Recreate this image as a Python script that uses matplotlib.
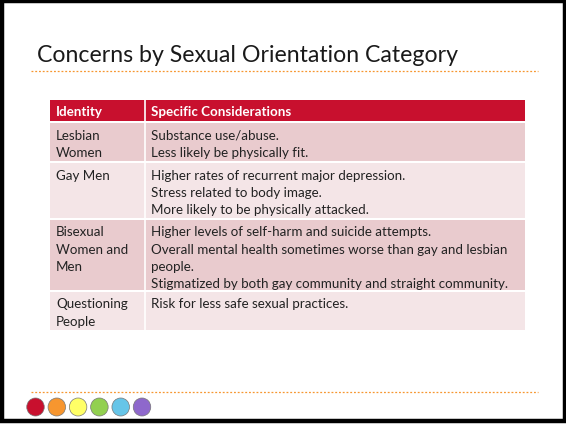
import matplotlib
matplotlib.use("Agg")
import matplotlib.pyplot as plt
from matplotlib.patches import Rectangle, Ellipse

# table content
title = "Concerns by Sexual Orientation Category"
header = ["Identity", "Specific Considerations"]
identities = [["Lesbian", "Women"],
              ["Gay Men"],
              ["Bisexual", "Women and", "Men"],
              ["Questioning", "People"]]
considerations = [["Substance use/abuse.", "Less likely be physically fit."],
                  ["Higher rates of recurrent major depression.",
                   "Stress related to body image.",
                   "More likely to be physically attacked."],
                  ["Higher levels of self-harm and suicide attempts.",
                   "Overall mental health sometimes worse than gay and lesbian",
                   "people.",
                   "Stigmatized by both gay community and straight community."],
                  ["Risk for less safe sexual practices."]]
dot_colors = ["#c8102e", "#f7962f", "#ffff66", "#92d050", "#66c5e8", "#8e68cc"]

plt.rcParams['font.family'] = ['Lato', 'DejaVu Sans']

fig = plt.figure(figsize=(5.66, 4.24), dpi=100)
ax = fig.add_axes([0, 0, 1, 1])
ax.set_xlim(0, 566)
ax.set_ylim(424, 0)
ax.axis("off")

# slide frame
ax.add_patch(Rectangle((2, 1.2), 562.5, 420, fill=False, ec="black", lw=3.2))

ax.text(37, 55, title, fontsize=16.7, va="center", ha="left", color="#1a1a1a")
ax.plot([31, 538], [71, 71], color="#f7962f", lw=0.9, ls=(0, (1.5, 1.5)))
ax.plot([31, 538], [392, 392], color="#f7962f", lw=0.9, ls=(0, (1.5, 1.5)))

for i, c in enumerate(dot_colors):
    ax.add_patch(Ellipse((35.5 + i * 21.3, 407), 17.5, 18, fc=c, ec="#777777", lw=0.5))

# table geometry
left, mid, right = 50, 145, 525
fs = 9.65
ax.add_patch(Rectangle((left, 100), right - left, 21, fc="#c8102e", ec="none"))
ax.plot([mid, mid], [100, 121], color="white", lw=1.2)
ax.text(56, 112, header[0], color="white", fontsize=fs, fontweight="bold", va="center")
ax.text(151, 112, header[1], color="white", fontsize=fs, fontweight="bold", va="center")

row_tops = [123, 163, 220, 292]
row_bottoms = [161, 218, 290, 330]
row_fill = ["#e9cbce", "#f4e5e7", "#e9cbce", "#f4e5e7"]
line_h = 17.3
for r in range(len(identities)):
    top, bot = row_tops[r], row_bottoms[r]
    ax.add_patch(Rectangle((left, top), right - left, bot - top, fc=row_fill[r], ec="none"))
    ax.plot([mid, mid], [top, bot], color="white", lw=1.2)
    for k, s in enumerate(identities[r]):
        ax.text(56, top + 12.5 + k * line_h, s, fontsize=fs, va="center", color="#222222")
    for k, s in enumerate(considerations[r]):
        ax.text(151, top + 12.5 + k * line_h, s, fontsize=fs, va="center", color="#222222")

fig.savefig("out.png", dpi=100)
